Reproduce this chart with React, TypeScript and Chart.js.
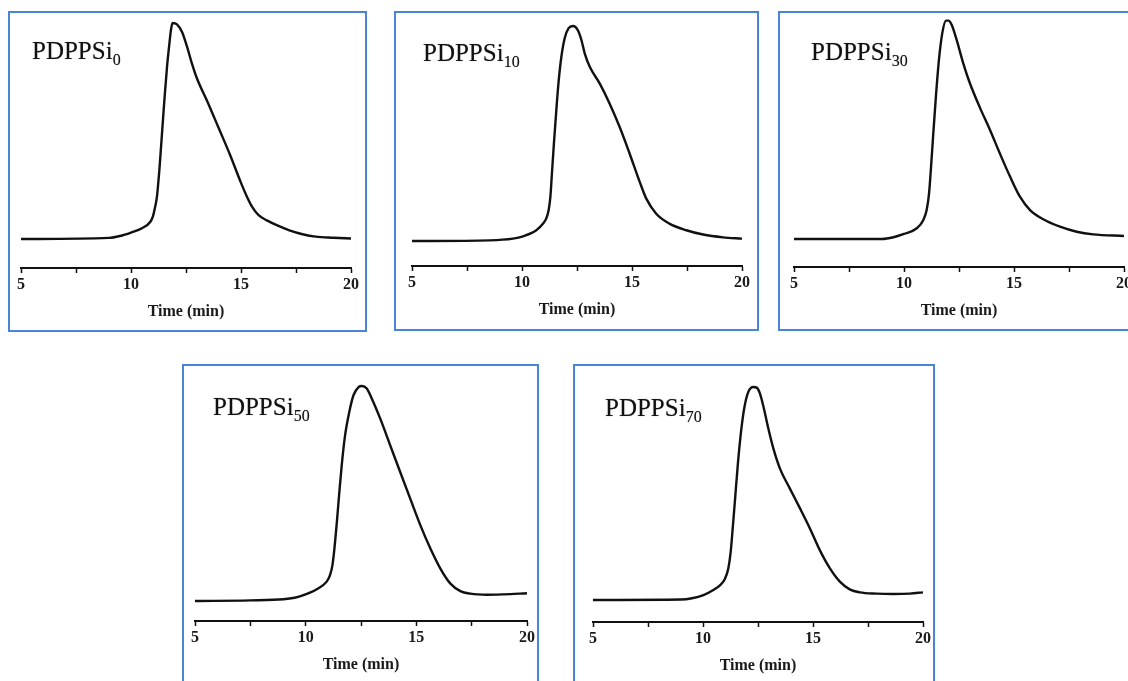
import React, { useEffect, useRef } from "react";
import { Chart, registerables } from "chart.js";

Chart.register(...registerables);

// ---- Data ----
const sampleNames = ["PDPPSi", "PDPPSi", "PDPPSi", "PDPPSi", "PDPPSi"];
const sampleSubs = ["0", "10", "30", "50", "70"];
const xTickLabels = [5, 10, 15, 20];
const axisTitle = "Time (min)";

const time0 = [5, 9, 9.5, 10, 10.5, 10.88, 11.0, 11.1, 11.18, 11.3, 11.41, 11.53, 11.64, 11.74, 11.82, 11.89, 12.09, 12.32, 12.55, 12.77, 13.0, 13.5, 14.0, 14.5, 15.0, 15.27, 15.5, 15.8, 16.2, 16.6, 17.2, 17.8, 18.4, 19.2, 20];
const signal0 = [0, 0.005, 0.014, 0.03, 0.05, 0.08, 0.106, 0.15, 0.196, 0.334, 0.49, 0.66, 0.8, 0.9, 0.97, 1.0, 0.994, 0.958, 0.889, 0.812, 0.743, 0.63, 0.51, 0.39, 0.26, 0.196, 0.15, 0.11, 0.085, 0.065, 0.04, 0.022, 0.011, 0.006, 0.002];

const time10 = [5, 8.53, 9.59, 10.05, 10.65, 10.95, 11.1, 11.21, 11.29, 11.36, 11.45, 11.56, 11.67, 11.79, 11.94, 12.12, 12.32, 12.55, 12.7, 12.85, 13.08, 13.53, 13.98, 14.44, 14.89, 15.35, 15.65, 16.1, 16.7, 17.47, 18.23, 19.14, 20];
const signal10 = [0, 0.003, 0.011, 0.022, 0.05, 0.08, 0.104, 0.143, 0.205, 0.314, 0.453, 0.609, 0.748, 0.857, 0.943, 0.99, 1.0, 0.978, 0.935, 0.873, 0.81, 0.733, 0.64, 0.53, 0.407, 0.275, 0.197, 0.127, 0.081, 0.05, 0.03, 0.017, 0.011];

const time30 = [5, 9, 9.52, 10, 10.58, 10.88, 11.03, 11.14, 11.23, 11.33, 11.45, 11.59, 11.74, 11.91, 12.02, 12.17, 12.39, 12.7, 13.0, 13.45, 13.9, 14.36, 14.82, 15.27, 15.73, 16.33, 17.09, 17.85, 18.6, 20];
const signal30 = [0, 0, 0.008, 0.023, 0.049, 0.087, 0.132, 0.21, 0.33, 0.48, 0.65, 0.82, 0.94, 0.997, 0.997, 0.977, 0.91, 0.8, 0.71, 0.6, 0.5, 0.39, 0.285, 0.193, 0.132, 0.09, 0.056, 0.033, 0.021, 0.014];

const time50 = [5, 7.5, 9, 9.5, 9.9, 10.5, 10.95, 11.1, 11.21, 11.3, 11.41, 11.51, 11.63, 11.78, 11.97, 12.16, 12.39, 12.54, 12.76, 12.99, 13.37, 13.82, 14.27, 14.72, 15.18, 15.63, 16.08, 16.53, 16.99, 17.44, 18.19, 18.95, 20];
const signal50 = [0, 0.003, 0.008, 0.015, 0.027, 0.055, 0.09, 0.12, 0.167, 0.245, 0.368, 0.492, 0.632, 0.77, 0.879, 0.957, 0.995, 1.0, 0.988, 0.941, 0.848, 0.724, 0.6, 0.477, 0.353, 0.245, 0.152, 0.082, 0.046, 0.034, 0.029, 0.031, 0.036];

const time70 = [5, 9, 9.5, 10.02, 10.47, 10.78, 11.0, 11.15, 11.26, 11.35, 11.46, 11.58, 11.71, 11.87, 12.06, 12.29, 12.44, 12.59, 12.77, 12.97, 13.2, 13.5, 13.95, 14.41, 14.86, 15.31, 15.77, 16.22, 16.67, 17.13, 17.88, 18.64, 19.4, 20];
const signal70 = [0, 0.002, 0.008, 0.023, 0.047, 0.07, 0.1, 0.148, 0.227, 0.336, 0.477, 0.633, 0.773, 0.898, 0.977, 1.0, 0.997, 0.969, 0.898, 0.805, 0.711, 0.617, 0.523, 0.43, 0.336, 0.234, 0.148, 0.086, 0.05, 0.036, 0.03, 0.028, 0.03, 0.036];

const seriesTimes = [time0, time10, time30, time50, time70];
const seriesSignals = [signal0, signal10, signal30, signal50, signal70];

// ---- Layout (page pixels) ----
type PanelLayout = {
  box: [number, number, number, number];
  x5: number;
  x20: number;
  axisY: number;
  baseY: number;
  peakY: number;
  labelX: number;
  labelBaseline: number;
};

const layouts: PanelLayout[] = [
  { box: [8, 11, 367, 332], x5: 21, x20: 351, axisY: 268, baseY: 239, peakY: 23, labelX: 32, labelBaseline: 59 },
  { box: [394, 11, 759, 331], x5: 412, x20: 742, axisY: 266, baseY: 241, peakY: 26, labelX: 423, labelBaseline: 61 },
  { box: [778, 11, 1160, 331], x5: 794, x20: 1124, axisY: 267, baseY: 239, peakY: 20, labelX: 811, labelBaseline: 60 },
  { box: [182, 364, 539, 720], x5: 195, x20: 527, axisY: 621, baseY: 601, peakY: 386, labelX: 213, labelBaseline: 415 },
  { box: [573, 364, 935, 720], x5: 593, x20: 923, axisY: 622, baseY: 600, peakY: 387, labelX: 605, labelBaseline: 416 },
];

const BORDER_BLUE = "#4a84d4";
const INK = "#111111";
const SERIF = "'Liberation Serif', 'Times New Roman', serif";
const AXIS_H = 53.6;
const TOP_ROOM = 8;

function Panel({ idx }: { idx: number }) {
  const ref = useRef<HTMLCanvasElement | null>(null);
  const L = layouts[idx];
  const [left, top, right, bottom] = L.box;
  const W = right - left;
  const H = bottom - top;

  useEffect(() => {
    if (!ref.current) return;
    const k = L.baseY - L.peakY;
    const yMax = 1 + TOP_ROOM / k;
    const yMin = -(L.axisY - L.baseY) / k;
    const times = seriesTimes[idx];
    const vals = seriesSignals[idx];
    const chart = new Chart(ref.current, {
      type: "line",
      data: {
        datasets: [
          {
            data: times.map((t, i) => ({ x: t, y: vals[i] })),
            borderColor: INK,
            borderWidth: 2.4,
            pointRadius: 0,
            fill: false,
            cubicInterpolationMode: "monotone",
          },
        ],
      },
      options: {
        animation: false,
        responsive: false,
        maintainAspectRatio: false,
        events: [],
        layout: {
          padding: {
            left: L.x5 - left,
            right: right - L.x20,
            top: L.peakY - TOP_ROOM - top,
            bottom: bottom - (L.axisY + AXIS_H),
          },
        },
        plugins: { legend: { display: false }, tooltip: { enabled: false } },
        scales: {
          x: {
            type: "linear",
            min: xTickLabels[0],
            max: xTickLabels[xTickLabels.length - 1],
            afterFit: (scale: any) => {
              scale.height = AXIS_H;
            },
            ticks: {
              stepSize: 2.5,
              autoSkip: false,
              maxRotation: 0,
              padding: 2.4,
              color: "#1a1a1a",
              font: { family: SERIF, size: 16, weight: "bold" },
              callback: (v: any) => (xTickLabels.includes(Number(v)) ? String(v) : ""),
            },
            grid: {
              display: true,
              drawOnChartArea: false,
              drawTicks: true,
              tickLength: 5,
              tickColor: INK,
              tickWidth: 1.5,
            },
            border: { display: true, color: INK, width: 2 },
            title: {
              display: true,
              text: axisTitle,
              color: "#1a1a1a",
              font: { family: SERIF, size: 16, weight: "bold" },
              padding: { top: 0, bottom: 0 },
            },
          },
          y: {
            type: "linear",
            display: false,
            min: yMin,
            max: yMax,
          },
        },
      } as any,
    });
    return () => chart.destroy();
  }, [idx]);

  return (
    <>
      <canvas
        ref={ref}
        width={W}
        height={H}
        style={{ position: "absolute", left, top, width: W, height: H }}
      />
      <div
        style={{
          position: "absolute",
          left,
          top,
          width: W,
          height: H,
          boxSizing: "border-box",
          border: `2px solid ${BORDER_BLUE}`,
          pointerEvents: "none",
        }}
      />
      <div
        style={{
          position: "absolute",
          left: L.labelX,
          top: L.labelBaseline - 21,
          fontFamily: SERIF,
          fontSize: 25,
          lineHeight: "25px",
          color: INK,
          whiteSpace: "nowrap",
          textShadow: "0 0 1px rgba(0,0,0,0.45)",
        }}
      >
        {sampleNames[idx]}
        <span style={{ fontSize: 16, lineHeight: 0, verticalAlign: "-6px" }}>{sampleSubs[idx]}</span>
      </div>
    </>
  );
}

export default function App() {
  return (
    <div
      style={{
        position: "fixed",
        left: 0,
        top: 0,
        width: 1128,
        height: 681,
        overflow: "hidden",
        background: "#ffffff",
      }}
    >
      {layouts.map((_, i) => (
        <Panel key={i} idx={i} />
      ))}
    </div>
  );
}
